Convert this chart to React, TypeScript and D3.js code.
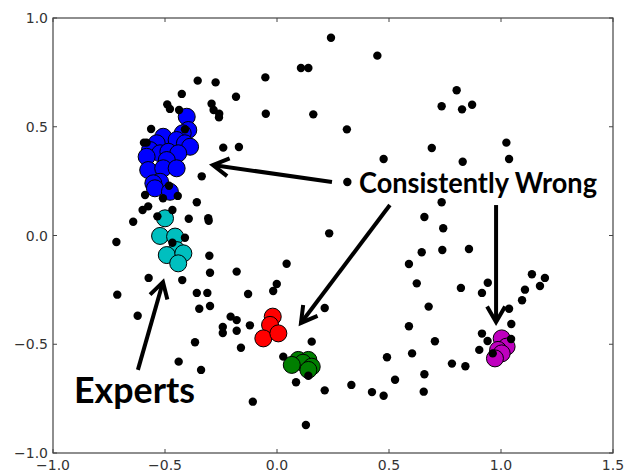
import React, { useEffect } from "react";
import * as d3 from "d3";

// background (black) points, [x, y]
const otherPoints: [number, number][] = [
  [-0.354, 0.712], [-0.274, 0.704], [-0.425, 0.651], [-0.183, 0.638], [-0.052, 0.727],
  [0.107, 0.77], [0.14, 0.77], [-0.05, 0.56], [0.162, 0.557], [-0.49, 0.603],
  [-0.478, 0.582], [-0.437, 0.577], [-0.292, 0.606], [-0.283, 0.577], [-0.258, 0.56],
  [-0.259, 0.543], [-0.562, 0.49], [-0.594, 0.427], [-0.582, 0.427], [-0.411, 0.488],
  [-0.24, 0.404], [-0.17, 0.407], [-0.336, 0.272], [-0.482, 0.229], [-0.589, 0.186],
  [-0.509, 0.171], [-0.443, 0.182], [-0.358, 0.153], [-0.575, 0.134], [-0.6, 0.117],
  [-0.467, 0.117], [-0.642, 0.063], [-0.534, 0.088], [-0.394, 0.077], [-0.307, 0.079],
  [-0.305, 0.068], [0.241, 0.909], [0.448, 0.827], [0.312, 0.488], [0.802, 0.668],
  [0.735, 0.594], [0.826, 0.58], [0.871, 0.601], [0.691, 0.402], [1.024, 0.427],
  [1.036, 0.352], [0.476, 0.352], [0.829, 0.339], [0.314, 0.246], [0.735, 0.153],
  [0.658, 0.085], [0.742, 0.033], [0.233, 0.01], [-0.717, -0.03], [-0.467, -0.033],
  [-0.411, -0.01], [-0.302, -0.093], [-0.299, -0.171], [-0.18, -0.166], [0.043, -0.13],
  [-0.001, -0.223], [-0.017, -0.255], [-0.573, -0.195], [-0.423, -0.205], [-0.713, -0.272],
  [-0.358, -0.264], [-0.311, -0.264], [-0.129, -0.269], [-0.347, -0.337], [-0.299, -0.324],
  [-0.622, -0.369], [-0.207, -0.373], [-0.18, -0.389], [-0.242, -0.421], [-0.242, -0.448],
  [-0.18, -0.438], [-0.121, -0.413], [-0.366, -0.491], [-0.161, -0.516], [-0.439, -0.58],
  [-0.339, -0.618], [0.028, -0.557], [0.155, -0.488], [0.14, -0.645], [0.085, -0.675],
  [-0.108, -0.764], [0.129, -0.871], [0.646, -0.077], [0.738, -0.067], [0.857, -0.062],
  [0.589, -0.131], [0.624, -0.22], [0.821, -0.241], [0.941, -0.217], [0.915, -0.264],
  [1.138, -0.178], [1.196, -0.195], [1.107, -0.249], [1.174, -0.232], [1.094, -0.298],
  [0.213, -0.333], [0.677, -0.327], [1.036, -0.337], [0.589, -0.417], [1.046, -0.407],
  [0.915, -0.451], [0.705, -0.486], [1.045, -0.476], [0.903, -0.526], [0.963, -0.542],
  [0.603, -0.542], [0.491, -0.56], [0.781, -0.589], [0.841, -0.601], [0.658, -0.638],
  [0.527, -0.663], [0.332, -0.687], [0.213, -0.712], [0.424, -0.72], [0.476, -0.737],
  [0.655, -0.718], [0.94, -0.485],
];

const blueGroup: [number, number][] = [
  [-0.403, 0.546], [-0.396, 0.485], [-0.421, 0.47], [-0.508, 0.454], [-0.448, 0.439],
  [-0.411, 0.424], [-0.388, 0.408], [-0.537, 0.424], [-0.567, 0.393], [-0.522, 0.378],
  [-0.485, 0.385], [-0.441, 0.378], [-0.582, 0.362], [-0.492, 0.347], [-0.575, 0.301],
  [-0.508, 0.309], [-0.448, 0.309], [-0.522, 0.247], [-0.552, 0.24], [-0.545, 0.217],
  [-0.478, 0.201],
];

const cyanGroup: [number, number][] = [
  [-0.5, 0.079], [-0.522, -0.002], [-0.455, -0.005], [-0.448, -0.067],
  [-0.492, -0.09], [-0.418, -0.082], [-0.441, -0.128],
];

const redGroup: [number, number][] = [
  [-0.019, -0.373], [-0.031, -0.411], [-0.061, -0.473], [0.006, -0.45],
];

const greenGroup: [number, number][] = [
  [0.095, -0.572], [0.14, -0.572], [0.116, -0.585], [0.066, -0.595],
  [0.155, -0.603], [0.14, -0.618],
];

const magentaGroup: [number, number][] = [
  [1.003, -0.473], [1.025, -0.511], [0.987, -0.526], [1.003, -0.542], [0.973, -0.565],
];

const xTicks = [-1.0, -0.5, 0.0, 0.5, 1.0, 1.5];
const yTicks = [-1.0, -0.5, 0.0, 0.5, 1.0];

// annotation arrows: [fromX, fromY, toX, toY]
const arrows: [number, number, number, number][] = [
  [0.2455, 0.246, -0.286, 0.324],
  [0.504, 0.14, 0.107, -0.402],
  [0.978, 0.14, 0.978, -0.398],
  [-0.621, -0.618, -0.509, -0.214],
];

const labels = [
  { text: "Consistently Wrong", x: 0.366, y: 0.195, size: 28, len: 238 },
  { text: "Experts", x: -0.906, y: -0.77, size: 36, len: 121 },
];

const fmt = (v: number) => v.toFixed(1).replace("-", "\u2212");

export default function App() {
  useEffect(() => {
    document.body.style.margin = "0";
  }, []);

  const W = 630;
  const H = 472;
  const left = 53, right = 613, top = 18, bottom = 453;

  const x = d3.scaleLinear().domain([-1, 1.5]).range([left, right]);
  const y = d3.scaleLinear().domain([-1, 1]).range([bottom, top]);

  const groups: { pts: [number, number][]; color: string }[] = [
    { pts: blueGroup, color: "#0000ff" },
    { pts: cyanGroup, color: "#00bfbf" },
    { pts: redGroup, color: "#ff0000" },
    { pts: greenGroup, color: "#007f00" },
    { pts: magentaGroup, color: "#bf00bf" },
  ];

  const arrowHead = (a: [number, number, number, number]) => {
    const x0 = x(a[0]), y0 = y(a[1]), x1 = x(a[2]), y1 = y(a[3]);
    const ang = Math.atan2(y0 - y1, x0 - x1);
    const L = 18, spread = (30 * Math.PI) / 180;
    const p1 = [x1 + L * Math.cos(ang + spread), y1 + L * Math.sin(ang + spread)];
    const p2 = [x1 + L * Math.cos(ang - spread), y1 + L * Math.sin(ang - spread)];
    return `M${p1[0]},${p1[1]}L${x1},${y1}L${p2[0]},${p2[1]}`;
  };

  const tickColor = "#444";
  const textColor = "#333";

  return (
    <svg width={W} height={H} style={{ display: "block", background: "#fff" }}>
      {groups.map((g, gi) =>
        g.pts.map((p, i) => (
          <circle
            key={`g${gi}-${i}`}
            cx={x(p[0])}
            cy={y(p[1])}
            r={8.5}
            fill={g.color}
            stroke="#000"
            strokeWidth={1}
          />
        ))
      )}
      {otherPoints.map((p, i) => (
        <circle key={`o${i}`} cx={x(p[0])} cy={y(p[1])} r={4.2} fill="#000" />
      ))}

      {arrows.map((a, i) => (
        <g key={`a${i}`} fill="none" stroke="#000" strokeWidth={4} strokeLinecap="butt">
          <line x1={x(a[0])} y1={y(a[1])} x2={x(a[2])} y2={y(a[3])} />
          <path d={arrowHead(a)} strokeLinejoin="miter" />
        </g>
      ))}

      {labels.map((l, i) => (
        <text
          key={`l${i}`}
          x={x(l.x)}
          y={y(l.y)}
          fontFamily="Lato, 'Open Sans', sans-serif"
          fontWeight="bold"
          fontSize={l.size}
          textLength={l.len}
          lengthAdjust="spacingAndGlyphs"
          fill="#000"
        >
          {l.text}
        </text>
      ))}

      <rect
        x={left}
        y={top}
        width={right - left}
        height={bottom - top}
        fill="none"
        stroke={tickColor}
        strokeWidth={1.2}
      />
      {xTicks.map((t) => (
        <g key={`xt${t}`}>
          <line x1={x(t)} x2={x(t)} y1={bottom} y2={bottom - 4} stroke={tickColor} />
          <line x1={x(t)} x2={x(t)} y1={top} y2={top + 4} stroke={tickColor} />
          <text
            x={x(t)}
            y={bottom + 17}
            textAnchor="middle"
            fontFamily="'DejaVu Sans', sans-serif"
            fontSize={14}
            fill={textColor}
          >
            {fmt(t)}
          </text>
        </g>
      ))}
      {yTicks.map((t) => (
        <g key={`yt${t}`}>
          <line x1={left} x2={left + 4} y1={y(t)} y2={y(t)} stroke={tickColor} />
          <line x1={right} x2={right - 4} y1={y(t)} y2={y(t)} stroke={tickColor} />
          <text
            x={left - 5}
            y={y(t)}
            dy="0.36em"
            textAnchor="end"
            fontFamily="'DejaVu Sans', sans-serif"
            fontSize={14}
            fill={textColor}
          >
            {fmt(t)}
          </text>
        </g>
      ))}
    </svg>
  );
}
